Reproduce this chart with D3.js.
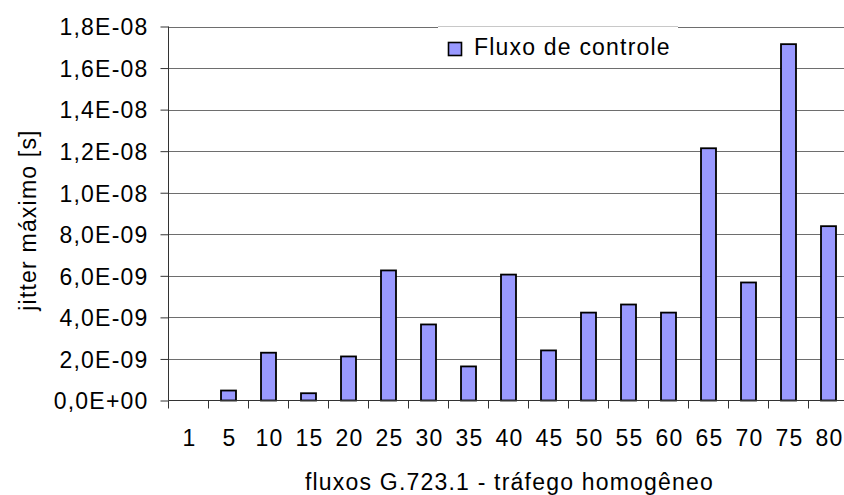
<!DOCTYPE html>
<html>
<head>
<meta charset="utf-8">
<script src="https://cdn.jsdelivr.net/npm/d3@7"></script>
<style>
body { margin: 0; background: #fff; }
text { font-family: "Liberation Sans", Arial, sans-serif; font-size: 23px; letter-spacing: 1.2px; fill: #000; }
</style>
</head>
<body>
<svg width="844" height="495"></svg>
<script>
// dados
var fluxos = ["1","5","10","15","20","25","30","35","40","45","50","55","60","65","70","75","80"];
var jitter = [0, 0.48e-9, 2.3e-9, 0.35e-9, 2.12e-9, 6.26e-9, 3.66e-9, 1.64e-9, 6.06e-9, 2.41e-9,
              4.23e-9, 4.62e-9, 4.23e-9, 12.14e-9, 5.68e-9, 17.15e-9, 8.39e-9];
var yTicks = [0, 2e-9, 4e-9, 6e-9, 8e-9, 10e-9, 12e-9, 14e-9, 16e-9, 18e-9];
var yTickLabels = ["0,0E+00","2,0E-09","4,0E-09","6,0E-09","8,0E-09","1,0E-08","1,2E-08","1,4E-08","1,6E-08","1,8E-08"];
var serieNome = "Fluxo de controle";

var svg = d3.select("svg");
var pLeft = 168.5, pRight = 848.5, pTop = 26.5, pBottom = 400.5;

var xScale = d3.scaleBand().domain(fluxos).range([pLeft, pRight]).padding(0);
var yScale = d3.scaleLinear().domain([0, 18e-9]).range([pBottom, pTop]);

// linhas de grade
svg.append("g")
   .selectAll("line")
   .data(yTicks.slice(1))
   .enter().append("line")
   .attr("x1", pLeft).attr("x2", 844)
   .attr("y1", function(d) { return Math.round(yScale(d)) + 0.5; })
   .attr("y2", function(d) { return Math.round(yScale(d)) + 0.5; })
   .attr("stroke", "#6e6e6e")
   .attr("stroke-width", 1);

// legenda (fundo branco por cima da grade superior)
var leg = svg.append("g");
leg.append("rect")
   .attr("x", 438).attr("y", 26).attr("width", 240).attr("height", 38)
   .attr("fill", "#fff");
leg.append("line")
   .attr("x1", 438).attr("x2", 678).attr("y1", 26.5).attr("y2", 26.5)
   .attr("stroke", "#c8c8c8");
leg.append("rect")
   .attr("x", 448.5).attr("y", 42.5).attr("width", 13).attr("height", 13)
   .attr("fill", "#9999ff").attr("stroke", "#000").attr("stroke-width", 1.6);
leg.append("text")
   .attr("x", 474).attr("y", 55)
   .text(serieNome);

// barras
var barW = 15;
svg.append("g")
   .selectAll(".bar")
   .data(jitter.map(function(v, i) { return [fluxos[i], v]; }).filter(function(d) { return d[1] > 0; }))
   .enter().append("rect")
   .attr("class", "bar")
   .attr("x", function(d) { return xScale(d[0]) + (xScale.bandwidth() - barW) / 2; })
   .attr("y", function(d) { return yScale(d[1]); })
   .attr("width", barW)
   .attr("height", function(d) { return pBottom - yScale(d[1]); })
   .attr("fill", "#9999ff")
   .attr("stroke", "#000")
   .attr("stroke-width", 1.8);

// eixo y
var yAxis = svg.append("g")
   .attr("transform", "translate(" + pLeft + ",0)")
   .call(d3.axisLeft(yScale).tickValues(yTicks).tickSize(8).tickPadding(12)
        .tickFormat(function(d, i) { return yTickLabels[i]; }));
yAxis.attr("font-size", null).attr("font-family", null);
yAxis.select(".domain").attr("stroke", "#333").attr("d", "M0," + pTop + "V" + pBottom);
yAxis.selectAll(".tick line").attr("stroke", "#333");
yAxis.selectAll("text").attr("dy", "0.36em");

// eixo x
var xAxis = svg.append("g")
   .attr("transform", "translate(0," + pBottom + ")");
xAxis.append("line")
   .attr("x1", pLeft).attr("x2", 844).attr("y1", 0).attr("y2", 0)
   .attr("stroke", "#333");
xAxis.selectAll(".tk")
   .data(fluxos)
   .enter().append("line")
   .attr("class", "tk")
   .attr("x1", function(d) { return xScale(d); })
   .attr("x2", function(d) { return xScale(d); })
   .attr("y1", 0).attr("y2", 8)
   .attr("stroke", "#333");
xAxis.selectAll(".lbl")
   .data(fluxos)
   .enter().append("text")
   .attr("class", "lbl")
   .attr("x", function(d) { return xScale(d) + xScale.bandwidth() / 2 + 1; })
   .attr("y", 45)
   .attr("text-anchor", "middle")
   .text(function(d) { return d; });

// titulos dos eixos
svg.append("text")
   .attr("x", (pLeft + pRight) / 2 + 1)
   .attr("y", 490)
   .attr("text-anchor", "middle")
   .text("fluxos G.723.1 - tráfego homogêneo");

svg.append("text")
   .attr("transform", "translate(36,220) rotate(-90)")
   .attr("text-anchor", "middle")
   .text("jitter máximo [s]");
</script>
</body>
</html>
